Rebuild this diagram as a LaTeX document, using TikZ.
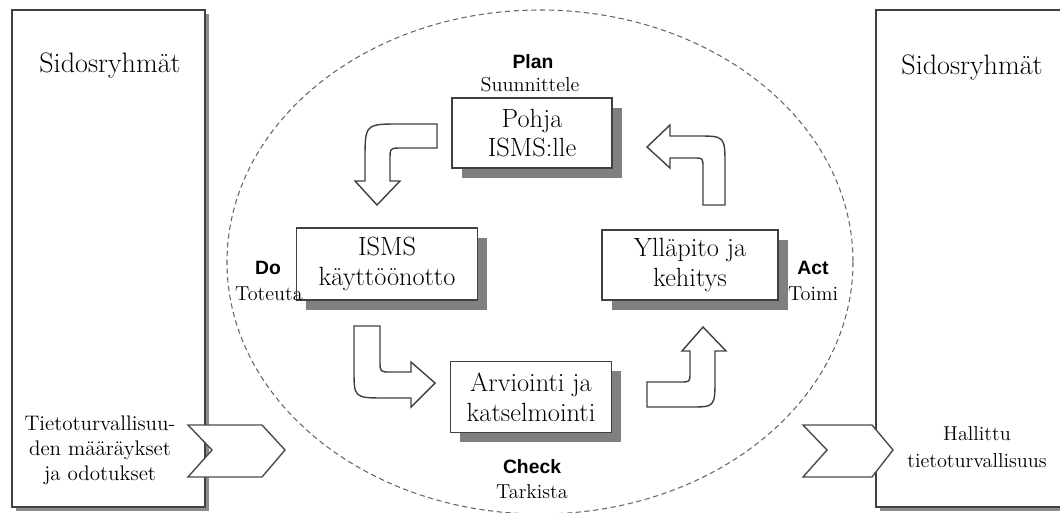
\documentclass[tikz,border=0pt]{standalone}
\usepackage{fontspec}
\newfontfamily\pdcafont{Liberation Sans}
\usetikzlibrary{shadows}

\begin{document}
\begin{tikzpicture}[x=0.02cm, y=-0.02cm,
    phase/.style={rectangle, draw=black!75, line width=0.9pt, fill=white, align=center,
        inner sep=0pt, font=\fontsize{15}{17}\selectfont,
        drop shadow={shadow xshift=5.5pt, shadow yshift=-5.5pt, fill=black!50, opacity=1}},
    group/.style={draw=black!75, line width=1pt, fill=white,
        drop shadow={shadow xshift=2pt, shadow yshift=-2pt, fill=black!45, opacity=1}},
    pdca/.style={font=\pdcafont\bfseries\fontsize{11}{13}\selectfont, inner sep=0pt},
    verb/.style={font=\fontsize{11.5}{13}\selectfont, inner sep=0pt},
    blockarrow/.style={draw=black!75, line width=0.8pt, fill=white},
    chevron/.style={draw=black!70, line width=0.8pt, fill=white}
]
\useasboundingbox (0,0) rectangle (1060,513);
\clip (0,0) rectangle (1060,513);

% Sidosryhmat
\draw[group] (12,10) rectangle (205,507);
\draw[group] (876,10) rectangle (1075,507);
\node[font=\fontsize{16}{19}\selectfont] (leftgroup) at (110,66) {Sidosryhmät};
\node[font=\fontsize{16}{19}\selectfont] (rightgroup) at (972,68) {Sidosryhmät};

% ISMS-kehys
\draw[black!60, densely dashed, line width=0.6pt] (540,262) ellipse [x radius=313, y radius=252];

% Vaiheet
\node[phase, minimum width=3.2cm, minimum height=1.4cm] (plan) at (532,133) {Pohja\\ISMS:lle};
\node[phase, minimum width=3.62cm, minimum height=1.44cm] (do) at (387,264) {ISMS\\käyttöönotto};
\node[phase, minimum width=3.52cm, minimum height=1.4cm] (act) at (690,265) {Ylläpito ja\\kehitys};
\node[phase, minimum width=3.22cm, minimum height=1.42cm] (check) at (531,397) {Arviointi ja\\katselmointi};

% PDCA-tekstit
\node[pdca] (planlabel) at (533,62) {Plan};
\node[verb] (planverb) at (530,85) {Suunnittele};
\node[pdca] (dolabel) at (268,268) {Do};
\node[verb] (doverb) at (269,294) {Toteuta};
\node[pdca] (actlabel) at (813,268) {Act};
\node[verb] (actverb) at (813,294) {Toimi};
\node[pdca] (checklabel) at (532,467) {Check};
\node[verb] (checkverb) at (532,492) {Tarkista};

% Kaarinuolet
\draw[blockarrow] (437,124) -- (400,124) .. controls (365,124) .. (365,160) -- (365,181)
    -- (355,181) -- (377,205) -- (400,181) -- (390,181) -- (390,160)
    .. controls (390,148) .. (402,148) -- (437,148) -- cycle;
\draw[blockarrow] (354,326) -- (354,370) .. controls (354,398) .. (386,398) -- (411,398)
    -- (411,407) -- (435,383) -- (411,362) -- (411,372) -- (391,372)
    .. controls (380,372) .. (380,361) -- (380,326) -- cycle;
\draw[blockarrow] (647,382) -- (681,382) .. controls (690,382) .. (690,372) -- (690,351)
    -- (682,351) -- (703,327) -- (726,351) -- (715,351) -- (715,378)
    .. controls (715,407) .. (690,407) -- (647,407) -- cycle;
\draw[blockarrow] (725,205) -- (725,166) .. controls (725,136) .. (697,136) -- (670,136)
    -- (670,125) -- (647,147) -- (670,168) -- (670,158) -- (694,158)
    .. controls (703,158) .. (703,168) -- (703,205) -- cycle;

% Syotteet ja tulokset
\draw[chevron] (188,425) -- (262,425) -- (285,450) -- (262,477) -- (188,477) -- (212,450) -- cycle;
\draw[chevron] (803,425) -- (872,425) -- (893,450) -- (872,477) -- (803,477) -- (827,450) -- cycle;
\node[align=center, inner sep=0pt, font=\fontsize{12}{14.3}\selectfont] (input) at (100,450)
    {Tietoturvallisuu-\\den määräykset\\ja odotukset};
\node[align=center, inner sep=0pt, font=\fontsize{11.5}{15.5}\selectfont] (output) at (977,447)
    {Hallittu\\tietoturvallisuus};

\end{tikzpicture}
\end{document}
